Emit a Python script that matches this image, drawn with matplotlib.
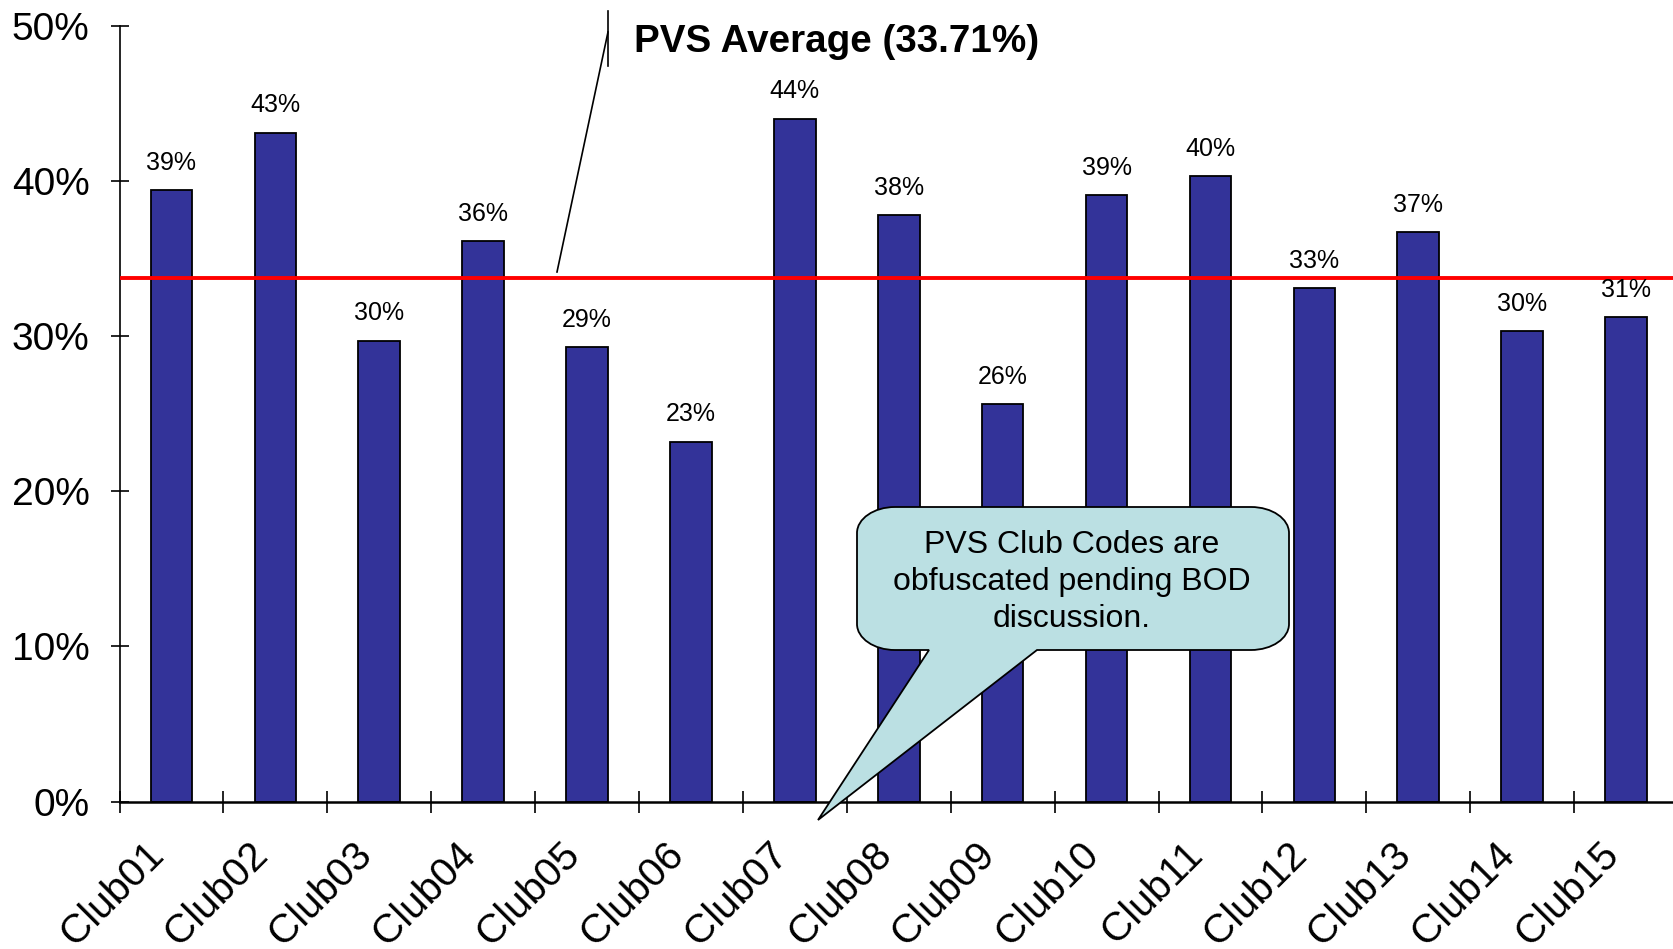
import matplotlib
matplotlib.use("Agg")
import matplotlib.pyplot as plt
from matplotlib.path import Path
from matplotlib.patches import PathPatch
from matplotlib.lines import Line2D
from matplotlib.transforms import ScaledTranslation
from matplotlib.ticker import FixedLocator, FuncFormatter

categories = ["Club01", "Club02", "Club03", "Club04", "Club05", "Club06", "Club07", "Club08",
              "Club09", "Club10", "Club11", "Club12", "Club13", "Club14", "Club15"]
values = [39.4, 43.1, 29.7, 36.1, 29.3, 23.2, 44.0, 37.8, 25.6, 39.1, 40.3, 33.1, 36.7, 30.3, 31.2]
average = 33.71
y_ticks = [0, 10, 20, 30, 40, 50]
avg_label = "PVS Average (33.71%)"
note_text = "PVS Club Codes are\nobfuscated pending BOD\ndiscussion."

plt.rcParams['font.family'] = ['Liberation Sans', 'DejaVu Sans']

W, H = 1673, 949
fig = plt.figure(figsize=(W / 100, H / 100), dpi=100)
ax_left, ax_right, ax_bottom, ax_top = 119.5, 1678.0, 801.7, 25.6
ax = fig.add_axes([ax_left / W, (H - ax_bottom) / H, (ax_right - ax_left) / W, (ax_bottom - ax_top) / H])

n = len(categories)
centers = [i + 0.5 for i in range(n)]
ax.bar(centers, values, width=0.40, color="#333399", edgecolor="black", linewidth=1.3, zorder=2)

for x, v in zip(centers, values):
    ax.annotate(f"{round(v):d}%", (x, v), xytext=(0, 11), textcoords="offset points",
                ha="center", va="bottom", fontsize=18, zorder=4)

ax.axhline(average, color="#FF0000", linewidth=2.8, zorder=3)

ax.set_xlim(0, n)
ax.set_ylim(0, 50)

for s in ["top", "right"]:
    ax.spines[s].set_visible(False)
ax.spines["left"].set_linewidth(1.2)
ax.spines["bottom"].set_linewidth(1.8)

ax.set_yticks(y_ticks)
ax.yaxis.set_major_formatter(FuncFormatter(lambda v, p: f"{v:.0f}%"))
ax.tick_params(axis="y", direction="inout", length=13, width=1.2, labelsize=28, pad=15)

ax.xaxis.set_major_locator(FixedLocator(list(range(n + 1))))
ax.xaxis.set_minor_locator(FixedLocator(centers))
ax.tick_params(axis="x", which="major", direction="inout", length=16, width=1.2, labelbottom=False)
ax.set_xticks(centers, categories, minor=True)
ax.tick_params(axis="x", which="minor", length=0, labelsize=29, pad=24)
for lbl in ax.get_xticklabels(minor=True):
    lbl.set_rotation(45)
    lbl.set_ha("right")
    lbl.set_va("top")
    lbl.set_rotation_mode("anchor")
    lbl.set_transform(lbl.get_transform() + ScaledTranslation(-27 / 100, 0, fig.dpi_scale_trans))


def fp(x, y):
    return (x / W, 1 - y / H)

# average label and callout line
fig.text(*fp(634, 42), avg_label, fontsize=27.8, fontweight="bold", ha="left", va="center")
x1, y1 = fp(557, 272)
x2, y2 = fp(608, 32)
fig.add_artist(Line2D([x1, x2], [y1, y2], color="black", linewidth=1.2, transform=fig.transFigure))
x3, y3 = fp(608, 11)
x4, y4 = fp(608, 66)
fig.add_artist(Line2D([x3, x4], [y3, y4], color="black", linewidth=1.2, transform=fig.transFigure))

# speech bubble
L, R, T, B = 857, 1289, 507, 650
rx, ry = 38, 26
k = 0.5523
pts = [
    (929, B), (818, 820), (1037, B), (R - rx, B),
    (R - rx + k * rx, B), (R, B - ry + k * ry), (R, B - ry),
    (R, T + ry),
    (R, T + ry - k * ry), (R - rx + k * rx, T), (R - rx, T),
    (L + rx, T),
    (L + rx - k * rx, T), (L, T + ry - k * ry), (L, T + ry),
    (L, B - ry),
    (L, B - ry + k * ry), (L + rx - k * rx, B), (L + rx, B),
    (929, B),
]
codes = [Path.MOVETO, Path.LINETO, Path.LINETO, Path.LINETO,
         Path.CURVE4, Path.CURVE4, Path.CURVE4,
         Path.LINETO,
         Path.CURVE4, Path.CURVE4, Path.CURVE4,
         Path.LINETO,
         Path.CURVE4, Path.CURVE4, Path.CURVE4,
         Path.LINETO,
         Path.CURVE4, Path.CURVE4, Path.CURVE4,
         Path.CLOSEPOLY]
path = Path([fp(x, y) for x, y in pts], codes)
fig.add_artist(PathPatch(path, facecolor="#BBE0E3", edgecolor="black", linewidth=1.3,
                         transform=fig.transFigure, zorder=5))
fig.text(*fp(1072, 582), note_text, fontsize=23, ha="center", va="center",
         multialignment="center", linespacing=1.3, zorder=6)

fig.savefig("out.png", dpi=100)
